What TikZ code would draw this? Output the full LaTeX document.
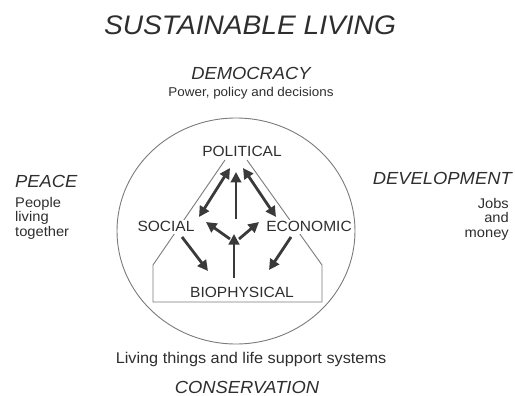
\documentclass[tikz,border=0pt]{standalone}
\usepackage{fontspec}
\setmainfont{Liberation Sans}[FakeStretch=1.05]
\usetikzlibrary{arrows.meta,shapes.geometric}
\definecolor{ink}{HTML}{2E2E2E}
\definecolor{rim}{HTML}{7A7A7A}
\definecolor{shaft}{HTML}{3A3A3A}
\begin{document}
\begin{tikzpicture}[x=1pt,y=-1pt,
  txt/.style={text=ink,inner sep=0pt},
  heading/.style={txt,font=\fontsize{17.5}{20}\itshape},
  caption/.style={txt,font=\fontsize{14}{14.5}\selectfont},
  sector/.style={txt,font=\fontsize{14.8}{16}\selectfont,fill=white,inner sep=2pt},
  rimline/.style={draw=rim,line width=0.9pt},
  flow/.style={draw=shaft,line width=2.8pt,-{Triangle[length=10.5pt,width=10.5pt]}},
  twoway/.style={flow,{Triangle[length=10.5pt,width=10.5pt]}-{Triangle[length=10.5pt,width=10.5pt]}}]
\useasboundingbox (0,0) rectangle (515,396);

% outer ring
\node[ellipse,rimline,minimum width=238,minimum height=226,inner sep=0pt] (ring) at (236,231) {};

% titles and side captions
\node[txt,font=\fontsize{26.8}{30}\itshape,anchor=base] (title) at (250,35) {SUSTAINABLE LIVING};
\node[heading,anchor=base] (democracy) at (251,80) {DEMOCRACY};
\node[txt,font=\fontsize{12.8}{14}\selectfont,anchor=base] (power) at (251,97) {Power, policy and decisions};
\node[heading,anchor=base west] (peace) at (15,187) {PEACE};
\node[caption,anchor=north west,align=left] (people) at (15,197) {People\\living\\together};
\node[heading,anchor=base east] (development) at (512,185) {DEVELOPMENT};
\node[caption,anchor=north east,align=right] (jobs) at (509,198) {Jobs\\and\\money};
\node[txt,font=\fontsize{15.5}{17}\selectfont,anchor=base] (living) at (251,363) {Living things and life support systems};
\node[heading,anchor=base] (conservation) at (247,393) {CONSERVATION};

% inner frame around the three lower sectors
\coordinate (fl) at (225,160);
\coordinate (fr) at (247,160);
\draw[rimline] (fl) -- (153,265) -- (153,302) -- (322,302) -- (322,265) -- (fr);

% sector labels
\node[sector,anchor=base] (political) at (242,157) {POLITICAL};
\node[sector,anchor=base] (social) at (166,232) {SOCIAL};
\node[sector,anchor=base] (economic) at (309,232) {ECONOMIC};
\node[sector,anchor=base] (bio) at (242,297) {BIOPHYSICAL};

% arrow end points
\coordinate (pl) at (230,168);
\coordinate (sl) at (199,217);
\coordinate (pr) at (243,168);
\coordinate (er) at (276,217);
\coordinate (pc) at (236,172);
\coordinate (pcb) at (236,219);
\coordinate (hub) at (234,234);
\coordinate (bioup) at (234,278);
\coordinate (hl0) at (230,239);
\coordinate (hl) at (206,222);
\coordinate (hr0) at (239,239);
\coordinate (hr) at (259,222);
\coordinate (s0) at (182,237);
\coordinate (sb) at (208,271);
\coordinate (e0) at (291,237);
\coordinate (eb) at (269,270);

% interactions between the sectors
\draw[twoway] (sl) -- (pl);
\draw[twoway] (er) -- (pr);
\draw[flow] (pcb) -- (pc);
\draw[flow] (bioup) -- (hub);
\draw[flow] (hl0) -- (hl);
\draw[flow] (hr0) -- (hr);
\draw[flow] (s0) -- (sb);
\draw[flow] (e0) -- (eb);
\end{tikzpicture}
\end{document}
